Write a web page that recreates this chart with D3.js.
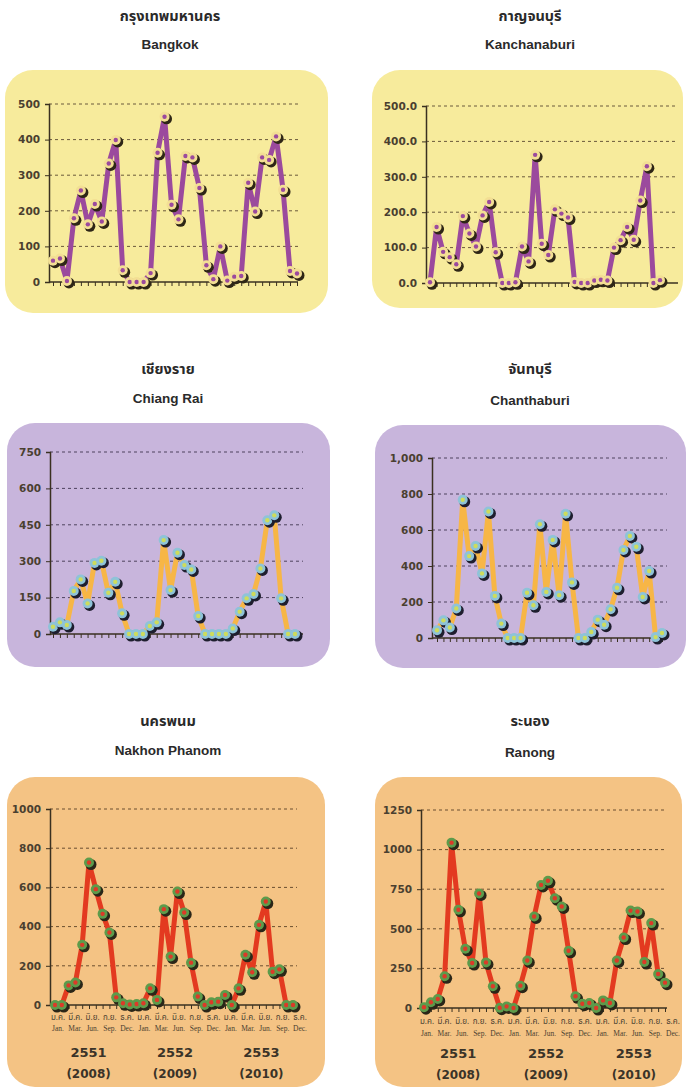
<!DOCTYPE html>
<html><head><meta charset="utf-8">
<script src="https://cdn.jsdelivr.net/npm/d3@7"></script>
<style>body{margin:0;background:#fff} svg{display:block}</style>
</head><body>
<svg id="c" width="689" height="1089"></svg>
<script>
// ---- data ----
const monthNames = ["Jan","Feb","Mar","Apr","May","Jun","Jul","Aug","Sep","Oct","Nov","Dec"];
const years = ["2008","2009","2010"];
const months = years.flatMap(y => monthNames.map(m => m + " " + y));

const bangkok      = [60,66,3,179,257,162,219,170,333,399,33,0,0,0,25,363,464,217,176,354,350,264,47,8,100,4,15,17,279,198,350,343,409,259,31,24];
const kanchanaburi = [2,158,88,73,53,189,140,103,191,229,87,0,0,2,103,61,362,111,79,208,196,185,3,0,0,7,9,7,100,121,158,122,233,330,0,8];
const chiangRai    = [30,48,37,177,225,126,293,302,170,215,85,0,0,0,33,48,387,181,335,284,266,74,0,0,0,0,23,92,147,165,270,469,489,147,0,0];
const chanthaburi  = [43,98,58,164,768,455,511,359,703,234,80,0,0,0,251,182,632,256,545,238,690,309,0,0,33,102,74,160,279,489,567,507,228,372,5,28];
const nakhonPhanom = [0,0,100,115,307,727,591,465,370,39,9,3,5,9,85,26,489,247,579,472,216,43,0,14,17,51,0,85,256,167,409,528,170,182,0,0];
const ranong       = [5,36,57,200,1044,620,374,284,723,288,137,2,10,0,141,300,578,777,803,693,641,361,74,27,32,0,48,32,300,445,615,609,290,536,215,160];

const ticksBangkok = [0,100,200,300,400,500];
const ticksKanchanaburi = [0,100,200,300,400,500];
const ticksChiangRai = [0,150,300,450,600,750];
const ticksChanthaburi = [0,200,400,600,800,1000];
const ticksNakhon = [0,200,400,600,800,1000];
const ticksRanong = [0,250,500,750,1000,1250];

const thaiMonthLabels = ["ม.ค.","มี.ค.","มิ.ย.","ก.ย.","ธ.ค."];
const engMonthLabels = ["Jan.","Mar.","Jun.","Sep.","Dec."];
const yearThai = ["2551","2552","2553"];
const yearAD = ["(2008)","(2009)","(2010)"];

// ---- styles ----
const themes = {
  yellow:   {bg:"#f7eb9c", line:"#9b4a9d", ring:"#f3df94", dot:"#9b4a9d", shadow:"#2e2616", grid:"#6b5a3c"},
  lavender: {bg:"#c8b5dc", line:"#f7b646", ring:"#8ec3d8", dot:"#cddc5c", shadow:"#1e1e2e", grid:"#4f435e"},
  peach:    {bg:"#f4c384", line:"#e33a20", ring:"#5d9b4b", dot:"#dc3a28", shadow:"#2a2618", grid:"#6b4f30"}
};

const panels = [
  {thai:"กรุงเทพมหานคร", eng:"Bangkok", values:bangkok, ticks:ticksBangkok, fmt:d3.format("d"), theme:"yellow",
   box:[5,70,323,243], ax:49, px0:53, px1:297, gEnd:298, y0:282, yTop:104, tx:170, ty1:17, ty2:44},
  {thai:"กาญจนบุรี", eng:"Kanchanaburi", values:kanchanaburi, ticks:ticksKanchanaburi, fmt:d3.format(".1f"), theme:"yellow",
   box:[372,70,311,238], ax:426, px0:430, px1:660, gEnd:678, y0:283, yTop:106, tx:530, ty1:17, ty2:44},
  {thai:"เชียงราย", eng:"Chiang Rai", values:chiangRai, ticks:ticksChiangRai, fmt:d3.format("d"), theme:"lavender",
   box:[7,423,323,244], ax:50, px0:53, px1:295, gEnd:303, y0:634, yTop:452, tx:168, ty1:370, ty2:398},
  {thai:"จันทบุรี", eng:"Chanthaburi", values:chanthaburi, ticks:ticksChanthaburi, fmt:d3.format(","), theme:"lavender",
   box:[375,425,311,243], ax:432, px0:437, px1:662, gEnd:667, y0:638, yTop:458, tx:530, ty1:370, ty2:400},
  {thai:"นครพนม", eng:"Nakhon Phanom", values:nakhonPhanom, ticks:ticksNakhon, fmt:d3.format("d"), theme:"peach",
   box:[7,777,318,310], ax:50, px0:55, px1:293, gEnd:297, y0:1005, yTop:809, tx:168, ty1:722, ty2:750,
   months:{x0:58, x1:300, r1:1018, r2:1028, y1:1052, y2:1074}},
  {thai:"ระนอง", eng:"Ranong", values:ranong, ticks:ticksRanong, fmt:d3.format("d"), theme:"peach",
   box:[375,777,307,310], ax:421, px0:424, px1:665, gEnd:667, y0:1008, yTop:810, tx:530, ty1:722, ty2:752,
   months:{x0:427, x1:673, r1:1022, r2:1033, y1:1053, y2:1075}}
];

const svg = d3.select("#c");
const thaiFont = "'Noto Sans Thai','Noto Sans','DejaVu Sans',sans-serif";
const labFont = "'DejaVu Sans','Liberation Sans',sans-serif";

panels.forEach(p => {
  const th = themes[p.theme];
  const g = svg.append("g");
  // titles
  g.append("text").attr("x", p.tx).attr("y", p.ty1).attr("text-anchor","middle").attr("dominant-baseline","central")
    .attr("font-family", thaiFont).attr("font-weight","bold").attr("font-size", 14.5).attr("fill","#2a2a2a").text(p.thai);
  g.append("text").attr("x", p.tx).attr("y", p.ty2).attr("text-anchor","middle").attr("dominant-baseline","central")
    .attr("font-family","'Liberation Sans',Arial,sans-serif").attr("font-weight","bold").attr("font-size", 13.5)
    .attr("fill","#2a2a2a").text(p.eng);
  // background
  g.append("rect").attr("x",p.box[0]).attr("y",p.box[1]).attr("width",p.box[2]).attr("height",p.box[3])
    .attr("rx",28).attr("fill",th.bg);

  const yMax = p.ticks[p.ticks.length-1];
  const x = d3.scalePoint().domain(months).range([p.px0, p.px1]);
  const y = d3.scaleLinear().domain([0, yMax]).range([p.y0, p.yTop]);

  // gridlines
  g.append("g").selectAll("line").data(p.ticks.filter(t => t > 0)).join("line")
    .attr("x1", p.ax).attr("x2", p.gEnd).attr("y1", d => y(d)).attr("y2", d => y(d))
    .attr("stroke", th.grid).attr("stroke-width", 1).attr("stroke-dasharray","3,3");

  // y axis
  const yAxis = d3.axisLeft(y).tickValues(p.ticks).tickFormat(p.fmt).tickSize(4).tickPadding(5);
  const ya = g.append("g").attr("transform", `translate(${p.ax},0)`).call(yAxis);
  ya.select(".domain").attr("stroke","#3a3020").attr("stroke-width",1.5);
  ya.selectAll(".tick line").attr("stroke","#3a3020");
  ya.selectAll("text").attr("font-family", labFont).attr("font-weight","bold").attr("font-size",10.5).attr("fill","#4a3f30");

  // x axis
  const xAxis = d3.axisBottom(x).tickValues(months).tickSize(4).tickFormat("");
  const xa = g.append("g").attr("transform", `translate(0,${p.y0})`).call(xAxis);
  xa.select(".domain").attr("d", `M${p.ax},0H${p.gEnd}`).attr("stroke","#3a3020").attr("stroke-width",1.5);
  xa.selectAll(".tick line").attr("stroke","#3a3020");

  // line
  const line = d3.line().x((d,i) => x(months[i])).y(d => y(d));
  g.append("path").datum(p.values).attr("d", line).attr("fill","none")
    .attr("stroke", th.line).attr("stroke-width", 5).attr("stroke-linejoin","round").attr("stroke-linecap","round");

  // markers
  const mk = g.append("g").selectAll("g").data(p.values).join("g")
    .attr("transform", (d,i) => `translate(${x(months[i])},${y(d)})`);
  mk.append("circle").attr("cx",2).attr("cy",2).attr("r",5.5).attr("fill", th.shadow);
  mk.append("circle").attr("r",5).attr("fill", th.ring);
  mk.append("circle").attr("r",2.2).attr("fill", th.dot);

  // month labels
  if (p.months) {
    const m = p.months;
    const labs = years.flatMap((yy, yi) => thaiMonthLabels.map((t, k) => ({t, e: engMonthLabels[k], key: yi + "-" + k})));
    const lx = d3.scalePoint().domain(labs.map(d => d.key)).range([m.x0, m.x1]);
    g.append("g").selectAll("text").data(labs).join("text")
      .attr("x", d => lx(d.key)).attr("y", m.r1).attr("text-anchor","middle").attr("dominant-baseline","central")
      .attr("font-family", thaiFont).attr("font-size", 8).attr("fill","#4a3f30").text(d => d.t);
    g.append("g").selectAll("text").data(labs).join("text")
      .attr("x", d => lx(d.key)).attr("y", m.r2).attr("text-anchor","middle").attr("dominant-baseline","central")
      .attr("font-family","'Liberation Serif',serif").attr("font-size", 7.5).attr("fill","#4a3f30").text(d => d.e);
    const yc = yi => lx(yi + "-2") - 4;
    g.append("g").selectAll("text").data(yearThai).join("text")
      .attr("x", (d,i) => yc(i)).attr("y", m.y1).attr("text-anchor","middle").attr("dominant-baseline","central")
      .attr("font-family", labFont).attr("font-weight","bold").attr("font-size",13).attr("fill","#3a3328").text(d => d);
    g.append("g").selectAll("text").data(yearAD).join("text")
      .attr("x", (d,i) => yc(i)).attr("y", m.y2).attr("text-anchor","middle").attr("dominant-baseline","central")
      .attr("font-family", labFont).attr("font-weight","bold").attr("font-size",12).attr("fill","#3a3328").text(d => d);
  }
});
</script>
</body></html>
